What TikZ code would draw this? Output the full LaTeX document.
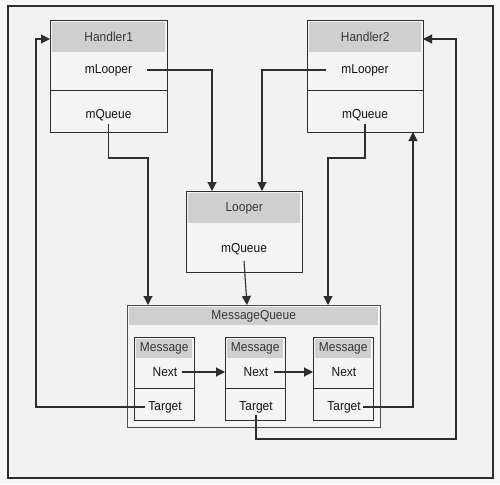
\documentclass[tikz,border=0pt]{standalone}
\usepackage{fontspec}
\setmainfont[FakeStretch=0.92]{Liberation Sans}
\usetikzlibrary{arrows.meta}
\definecolor{pagebg}{HTML}{F7F7F7}
\definecolor{panel}{HTML}{F2F2F2}
\definecolor{boxfill}{HTML}{F4F4F4}
\definecolor{headfill}{HTML}{CFCFCF}
\definecolor{edge}{HTML}{2E2E2E}
\definecolor{ink}{HTML}{141414}
\begin{document}
\begin{tikzpicture}[x=1pt,y=-1pt,
  frame/.style={draw=edge, line width=1.1pt, fill=boxfill, inner sep=0pt, anchor=north west},
  head/.style={fill=headfill, inner sep=0pt, anchor=north west, text=ink!85, font=\fontsize{13}{15}\selectfont},
  txt/.style={inner sep=1pt, text=ink, font=\fontsize{13}{15}\selectfont},
  divider/.style={draw=edge, line width=1pt},
  link/.style={draw=edge, line width=1.1pt},
  arr/.style={link, -{Triangle[length=9pt,width=9pt]}}]

% page and panel
\fill[pagebg] (0,0) rectangle (500,484);
\draw[draw=edge, line width=1.1pt, fill=panel] (8,6) rectangle (493,478);

% Handler1
\node[frame, minimum width=117pt, minimum height=112pt] (h1) at (50,20) {};
\node[head, minimum width=113pt, minimum height=30pt] (h1h) at (52,22) {Handler1};
\draw[divider] (h1.west |- 0,91) -- (h1.east |- 0,91);
\node[txt] (h1l) at (108.5,70) {mLooper};
\node[txt] (h1q) at (108.5,115) {mQueue};

% Handler2
\node[frame, minimum width=116pt, minimum height=112pt] (h2) at (307,20) {};
\node[head, minimum width=112pt, minimum height=30pt] (h2h) at (309,22) {Handler2};
\draw[divider] (h2.west |- 0,91) -- (h2.east |- 0,91);
\node[txt] (h2l) at (365,70) {mLooper};
\node[txt] (h2q) at (365,115) {mQueue};

% Looper
\node[frame, minimum width=116pt, minimum height=81pt] (lp) at (186,191) {};
\node[head, minimum width=112pt, minimum height=30pt] (lph) at (188,193) {Looper};
\node[txt] (lpq) at (244,249) {mQueue};

% MessageQueue with its three messages
\node[frame, draw=edge!85, line width=1.4pt, minimum width=253pt, minimum height=122pt] (mq) at (127,305) {};
\node[head, minimum width=249pt, minimum height=18pt] (mqh) at (129,307) {MessageQueue};

\foreach \n/\x in {1/134, 2/225, 3/313} {
  \node[frame, minimum width=60pt, minimum height=83pt] (m\n) at (\x,337) {};
  \node[head, minimum width=56pt, minimum height=19pt] (m\n h) at (\x+2,339) {Message};
  \draw[divider] (m\n.west |- 0,388) -- (m\n.east |- 0,388);
  \node[txt] (m\n n) at (\x+31,372) {Next};
  \node[txt] (m\n t) at (\x+31,407) {Target};
}

% turning points of the connectors
\coordinate (lpin1) at (212,191);
\coordinate (lpin2) at (262,191);
\coordinate (mqin1) at (148,305);
\coordinate (mqin2) at (247,305);
\coordinate (mqin3) at (328,305);
\coordinate (h1in) at (50,39);
\coordinate (h2in) at (423,39);
\coordinate (h2bot) at (413,132);

% handlers point at the looper
\draw[arr] ([xshift=14pt]h1l.east) -| (lpin1);
\draw[arr] ([xshift=-14pt]h2l.west) -| (lpin2);

% queue references
\draw[arr] ([yshift=-2pt]h1q.south) |- (129,158) -| (mqin1);
\draw[arr] ([yshift=-2pt]h2q.south) |- (340,158) -| (mqin3);
\draw[arr] ([yshift=-5pt]lpq.south) -- (mqin2);

% message chain
\draw[arr] ([xshift=4pt]m1n.east) -- (m2.west |- m1n);
\draw[arr] ([xshift=4pt]m2n.east) -- (m3.west |- m2n);

% targets back to the handlers
\draw[arr] ([xshift=-2pt]m1t.west) -| (36,200) |- (h1in);
\draw[arr] ([xshift=1pt]m3t.east) -| (h2bot);
\draw[arr] ([yshift=-1pt]m2t.south) |- (456,439) |- (h2in);
\end{tikzpicture}
\end{document}
